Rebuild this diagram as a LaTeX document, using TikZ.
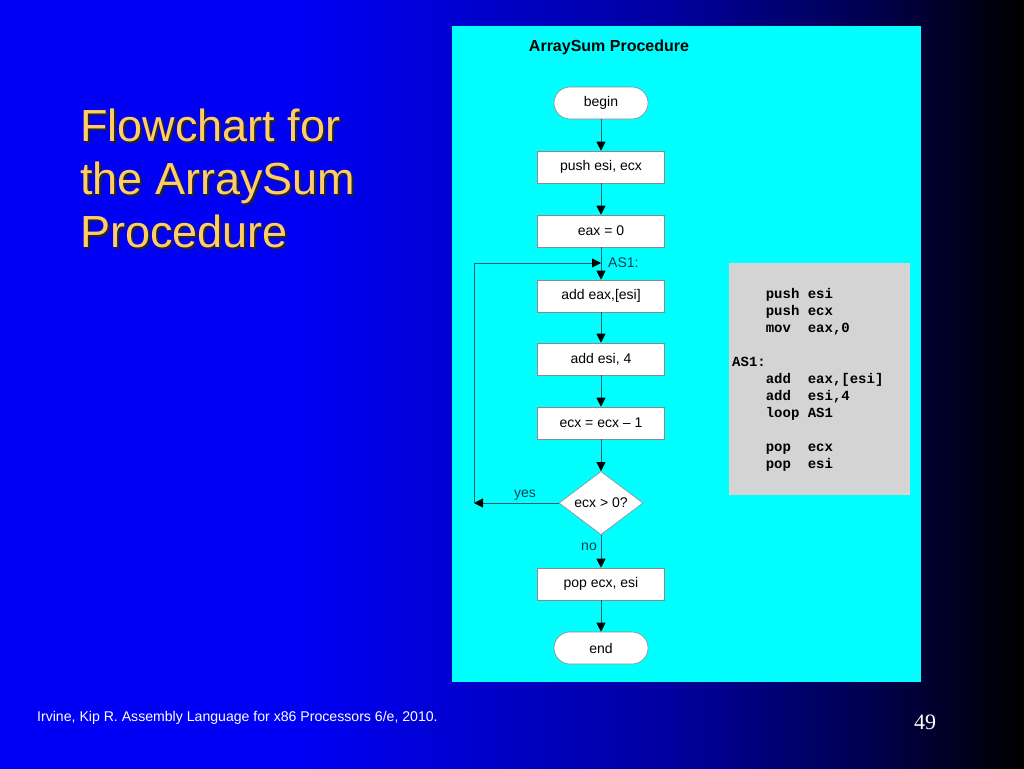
\documentclass[tikz,border=0pt]{standalone}
\usepackage{fontspec}
\setmainfont{Liberation Sans}
\newfontfamily\codefont{Liberation Mono}
\newfontfamily\numfont{Liberation Serif}
\usepackage{xcolor}
\usetikzlibrary{arrows.meta,positioning,shapes.geometric}
\definecolor{slideblue}{RGB}{0,0,245}
\definecolor{midblue}{RGB}{0,0,160}
\definecolor{darkblue}{RGB}{0,0,80}
\definecolor{panelcyan}{HTML}{00FFFF}
\definecolor{codegray}{HTML}{D4D4D4}
\definecolor{titleyellow}{HTML}{FFCC66}
\definecolor{linkteal}{HTML}{2A5A64}
\definecolor{labelteal}{HTML}{0E3F4E}
\definecolor{boxgray}{HTML}{8A8A8A}
% the path spans 25bp to 75bp of the shading
\pgfdeclarehorizontalshading{slidebg}{100bp}{color(0bp)=(slideblue); color(39.6bp)=(slideblue); color(57.6bp)=(midblue); color(67.3bp)=(darkblue); color(74.8bp)=(black); color(100bp)=(black)}

\begin{document}
\begin{tikzpicture}[
  x=1pt,y=-1pt,
  stepbox/.style={draw=boxgray,line width=0.6pt,fill=white,minimum width=127pt,minimum height=32pt,inner sep=0pt,font=\fontsize{14}{16}\selectfont},
  term/.style={stepbox,minimum width=94pt,rounded corners=16pt},
  test/.style={draw=boxgray,line width=0.6pt,fill=white,shape=diamond,minimum width=84pt,minimum height=62pt,inner sep=0pt,font=\fontsize{14}{16}\selectfont},
  arr/.style={-{Triangle[length=9pt,width=9pt,color=black]},draw=linkteal,line width=0.8pt},
  lbl/.style={text=labelteal,font=\fontsize{14}{16}\selectfont,inner sep=0pt}
]
\useasboundingbox (0,0) rectangle (1024,768);
\shade[shading=slidebg] (0,0) rectangle (1024,768);

% title on the left
\node[anchor=north west,align=left,text=black!85,font=\fontsize{45}{53}\selectfont,inner sep=0pt] (titleshadow) at (82,111) {Flowchart for\\the ArraySum\\Procedure};
\node[anchor=north west,align=left,text=titleyellow,font=\fontsize{45}{53}\selectfont,inner sep=0pt] (title) at (80,109) {Flowchart for\\the ArraySum\\Procedure};

% panel
\fill[panelcyan] (452,26) rectangle (921,682);
\node[font=\bfseries\fontsize{16}{18}\selectfont] (heading) at (609,47) {ArraySum Procedure};

% flowchart
\node[term] (begin) at (601,103) {begin};
\node[stepbox] (push) at (601,167) {push esi, ecx};
\node[stepbox] (clear) at (601,231) {eax = 0};
\node[stepbox] (addeax) at (601,296) {add eax,[esi]};
\node[stepbox] (addesi) at (601,359) {add esi, 4};
\node[stepbox] (dec) at (601,423) {ecx = ecx -- 1};
\node[test] (check) at (601,503) {ecx > 0?};
\node[stepbox] (pop) at (601,584) {pop ecx, esi};
\node[term] (end) at (601,648) {end};

\coordinate (yesend) at (474,503);
\coordinate (as1) at (601,263);

\draw[arr] (begin) -- (push);
\draw[arr] (push) -- (clear);
\draw[arr] (clear) -- (addeax);
\draw[arr] (addeax) -- (addesi);
\draw[arr] (addesi) -- (dec);
\draw[arr] (dec) -- (check);
\draw[arr] (check) -- (pop);
\draw[arr] (pop) -- (end);
\draw[arr] (check.west) -- (yesend);
\draw[arr] (yesend) |- (as1);

\node[lbl] (yes) at (525,495) {yes};
\node[lbl] (no) at (589,547) {no};
\node[lbl,anchor=west] (as1lbl) at (608,263) {AS1:};

% code listing
\fill[codegray] (729,263) rectangle (910,495);
\node[anchor=north west,align=left,inner sep=0pt,font=\codefont\bfseries\fontsize{14}{17}\selectfont] (code) at (732,288) {%
~~~~push~esi\\
~~~~push~ecx\\
~~~~mov~~eax,0\\
\mbox{}\\
AS1:\\
~~~~add~~eax,[esi]\\
~~~~add~~esi,4\\
~~~~loop~AS1\\
\mbox{}\\
~~~~pop~~ecx\\
~~~~pop~~esi};

% footer
\node[anchor=west,text=white,font=\fontsize{14.1}{16}\selectfont,inner sep=0pt] (cite) at (37,718) {Irvine, Kip R. Assembly Language for x86 Processors 6/e, 2010.};
\node[text=white,font=\numfont\fontsize{22}{24}\selectfont,inner sep=0pt] (page) at (925,722) {49};
\end{tikzpicture}
\end{document}
